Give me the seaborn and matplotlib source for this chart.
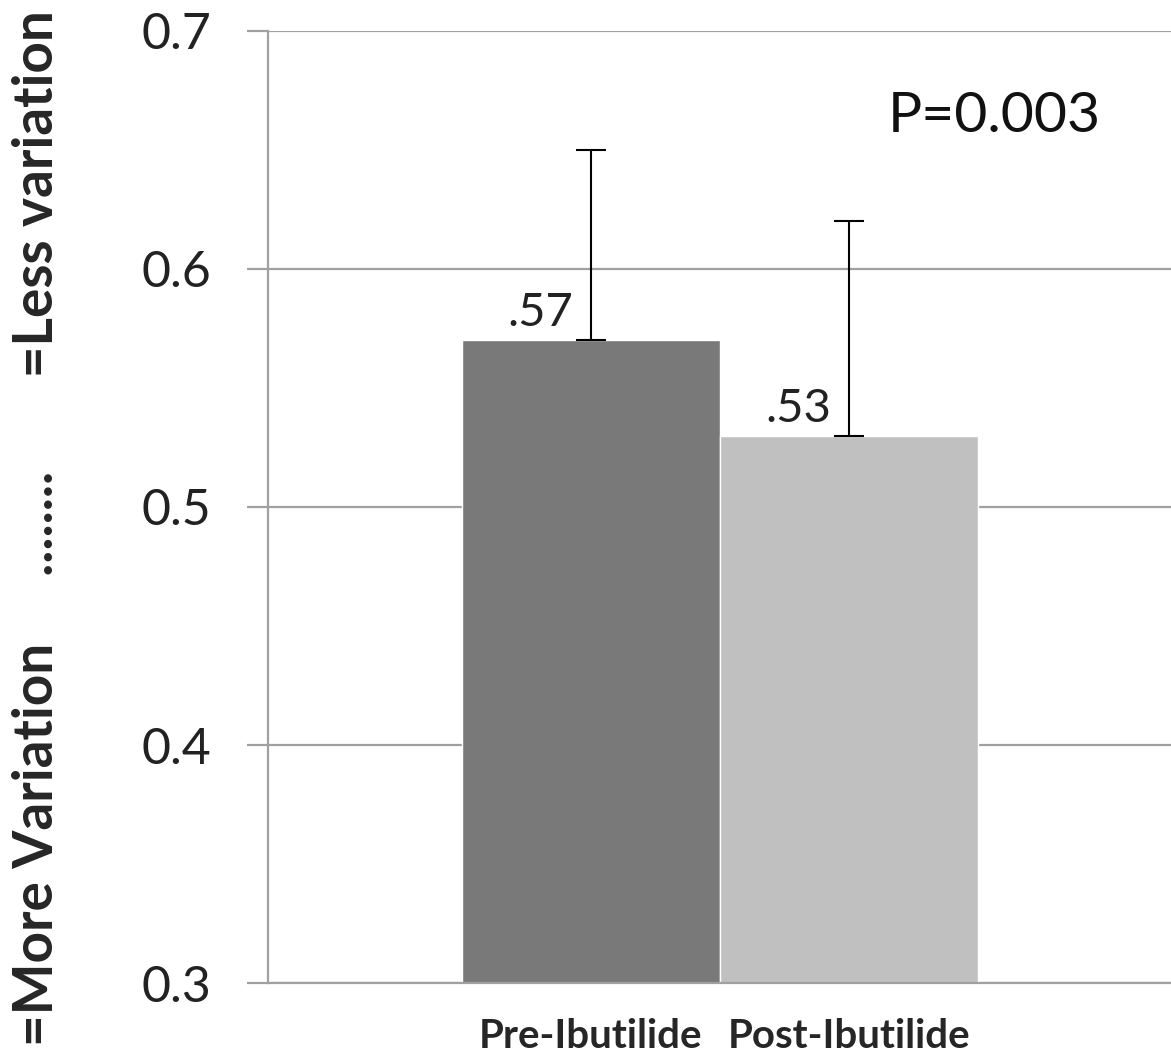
import pandas as pd
import matplotlib
matplotlib.use("Agg")
import matplotlib.pyplot as plt
import seaborn as sns

# data
groups = ["Pre-Ibutilide", "Post-Ibutilide"]
means = [0.57, 0.53]
err_up = [0.08, 0.09]
value_labels = [".57", ".53"]
bar_colors = ["#797979", "#c0c0c0"]
y_ticks = [0.3, 0.4, 0.5, 0.6, 0.7]
p_text = "P=0.003"
y_title = "=More Variation     ........       =Less variation"

sns.set_style("white")
plt.rcParams["font.family"] = ["Lato", "DejaVu Sans"]

df = pd.DataFrame({"Group": groups, "Value": means})
grid_col = "#a0a0a0"

fig = plt.figure(figsize=(11.71, 10.57), dpi=100)
ax = fig.add_axes([0.2289, 0.0700, 0.775, 0.9007])

sns.barplot(data=df, x="Group", y="Value", hue="Group", palette=bar_colors,
            width=1.0, saturation=1, legend=False, ax=ax, zorder=2)

# plus-only error bars, as Excel draws them
ax.errorbar(range(len(groups)), means, yerr=[[0] * len(means), err_up],
            fmt="none", ecolor="black", elinewidth=1.5, capsize=11,
            capthick=1.5, zorder=3)

for i, (m, lab) in enumerate(zip(means, value_labels)):
    ax.annotate(lab, xy=(i, m), xytext=(-13, 10), textcoords="offset points",
                ha="right", va="baseline", fontsize=34, color="#222222")

ax.set_ylim(0.3, 0.7)
ax.set_xlim(-1.25, 2.263)
ax.set_yticks(y_ticks)
ax.set_yticklabels([f"{t:.1f}" for t in y_ticks])
ax.yaxis.grid(True, color=grid_col, linewidth=1.6, zorder=0)
ax.set_axisbelow(True)

for side in ["top", "right"]:
    ax.spines[side].set_visible(False)
for side in ["left", "bottom"]:
    ax.spines[side].set_color(grid_col)
    ax.spines[side].set_linewidth(1.6)

ax.tick_params(axis="y", direction="out", length=15, width=1.6, color=grid_col,
               pad=26, labelsize=36, labelcolor="#222222", left=True)
ax.tick_params(axis="x", length=0, pad=25, labelsize=29)
for lbl in ax.get_xticklabels():
    lbl.set_fontweight("bold")

ax.set_xlabel("")
ax.set_ylabel("")

ax.text(0.683, 0.91, p_text, transform=ax.transAxes, ha="left", va="center",
        fontsize=41, color="#111111")

fig.text(0.032, 0.5, y_title, rotation=90, ha="center", va="center",
         fontsize=39.5, fontweight="bold")

fig.savefig("out.png", dpi=100)
plt.close(fig)
